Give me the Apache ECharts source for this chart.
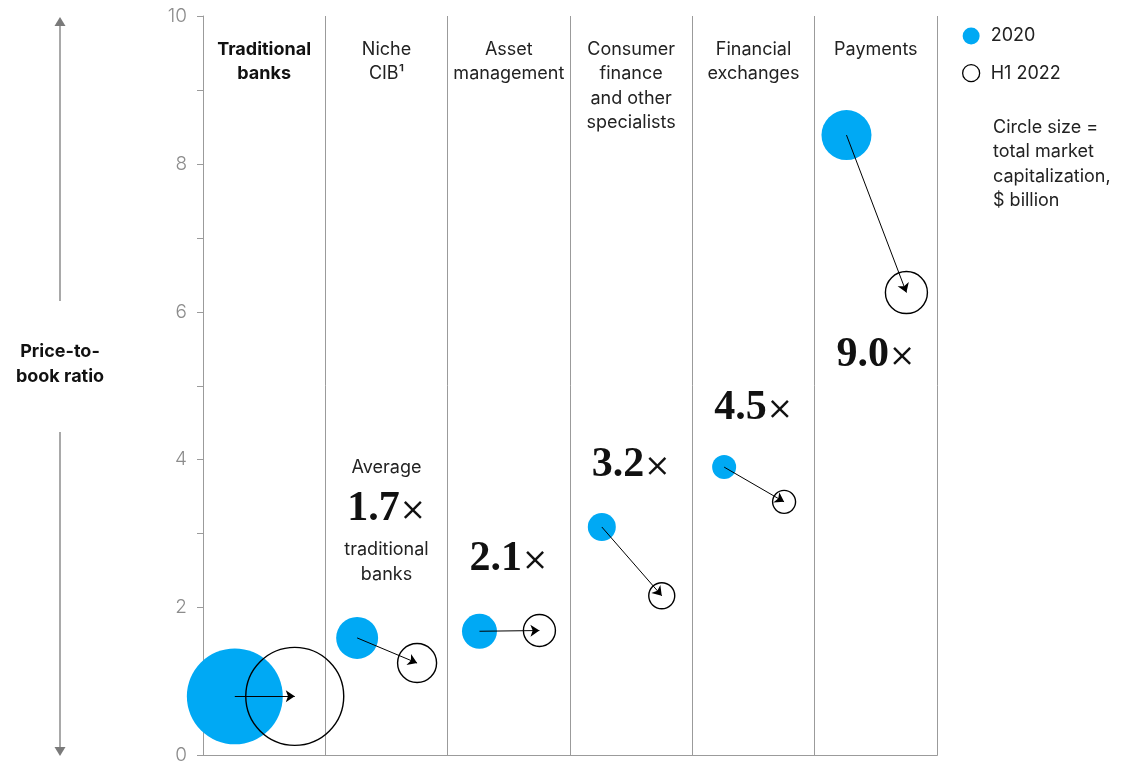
<!DOCTYPE html>
<html>
<head>
<meta charset="utf-8">
<script src="https://cdn.jsdelivr.net/npm/echarts@6/dist/echarts.min.js"></script>
<style>
html, body { margin: 0; padding: 0; background: #fff; }
#chart { width: 1129px; height: 765px; }
</style>
</head>
<body>
<div id="chart"></div>
<script>
// column headers
var categories = ['Traditional\nbanks', 'Niche\nCIB¹', 'Asset\nmanagement', 'Consumer\nfinance\nand other\nspecialists', 'Financial\nexchanges', 'Payments']
// price-to-book ratio
var pb2020 = [0.80, 1.59, 1.68, 3.09, 3.90, 8.39]
var pbH12022 = [0.80, 1.25, 1.69, 2.16, 3.43, 6.26]
// total market capitalization, $ billion (read from circle areas)
var cap2020 = [2300, 440, 306, 196, 144, 625]
var capH12022 = [2400, 380, 256, 169, 132, 441]
// average multiple of traditional banks
var multiples = [null, 1.7, 2.1, 3.2, 4.5, 9.0]
var yTicks = [0, 2, 4, 6, 8, 10]

// layout only
var labelY = [null, 3.17, 2.66, 3.93, 4.70, 5.42]
var off2020 = 0.26
var off2022 = 0.75

var blue = '#00a9f4'
var grey = '#9b9b9b'
var font = 'Inter, Roboto, "Liberation Sans", sans-serif'

var chart = echarts.init(document.getElementById('chart'))

function header (val, idx) {
  var tag = idx === 0 ? 'b' : 'n'
  return val.split('\n').map(function (s) { return '{' + tag + '|' + s + '}' }).join('\n')
}

function multipleLabel (p) {
  var m = '{m|' + p.value[2].toFixed(1) + '}{x|×}'
  if (p.value[3] === 1) {
    return '{s|Average}\n' + m + '\n{s|traditional}\n{s|banks}'
  }
  return m
}

var multData = []
multiples.forEach(function (m, i) {
  if (m !== null) multData.push([i + 0.5, labelY[i], m, i])
})

chart.setOption({
  animation: false,
  grid: { left: 203, right: 192, top: 16, bottom: 9 },
  legend: {
    data: [{ name: '2020' }, { name: 'H1 2022', itemStyle: { borderWidth: 1.3 } }],
    orient: 'vertical',
    left: 957,
    top: 22,
    itemWidth: 17,
    itemHeight: 17,
    itemGap: 19,
    icon: 'circle',
    textStyle: { fontFamily: font, fontSize: 18, color: '#222', padding: [0, 0, 0, 6] }
  },
  xAxis: [
    {
      type: 'category',
      data: categories,
      position: 'top',
      boundaryGap: true,
      axisLine: { show: true, lineStyle: { color: grey, width: 1 } },
      axisTick: { show: false },
      splitLine: { show: true, lineStyle: { color: grey, width: 1 } },
      axisLabel: {
        inside: true,
        interval: 0,
        margin: 21,
        verticalAlign: 'top',
        formatter: header,
        rich: {
          b: { fontFamily: font, fontSize: 18, fontWeight: 'bold', color: '#111', lineHeight: 24.5 },
          n: { fontFamily: font, fontSize: 18, color: '#222', lineHeight: 24.5 }
        }
      }
    },
    {
      type: 'value',
      min: 0,
      max: 6,
      position: 'bottom',
      axisLine: { show: true, lineStyle: { color: grey } },
      axisTick: { show: false },
      axisLabel: { show: false },
      splitLine: { show: false }
    }
  ],
  yAxis: {
    type: 'value',
    min: 0,
    max: 10,
    interval: 1,
    axisLine: { show: true, lineStyle: { color: grey } },
    axisTick: { show: true, length: 6, lineStyle: { color: grey } },
    splitLine: { show: false },
    axisLabel: {
      color: '#8c8c8c',
      fontSize: 19,
      fontFamily: font,
      fontWeight: 300,
      margin: 16,
      formatter: function (v) { return yTicks.indexOf(v) >= 0 ? String(v) : '' }
    }
  },
  series: [
    {
      name: '2020',
      type: 'scatter',
      xAxisIndex: 1,
      z: 2,
      data: pb2020.map(function (v, i) { return [i + off2020, v, cap2020[i]] }),
      symbolSize: function (d) { return 2 * Math.sqrt(d[2]) },
      itemStyle: { color: blue, opacity: 1 }
    },
    {
      name: 'H1 2022',
      type: 'scatter',
      xAxisIndex: 1,
      z: 3,
      data: pbH12022.map(function (v, i) { return [i + off2022, v, capH12022[i]] }),
      symbolSize: function (d) { return 2 * Math.sqrt(d[2]) },
      itemStyle: { color: 'rgba(0,0,0,0)', borderColor: '#000', borderWidth: 1.4, opacity: 1 }
    },
    {
      name: 'arrows',
      type: 'lines',
      coordinateSystem: 'cartesian2d',
      xAxisIndex: 1,
      z: 4,
      silent: true,
      symbol: ['none', 'arrow'],
      symbolSize: 9,
      lineStyle: { color: '#000', width: 1, opacity: 1 },
      data: pb2020.map(function (v, i) {
        return { coords: [[i + off2020, v], [i + off2022, pbH12022[i]]] }
      })
    },
    {
      name: 'multiples',
      type: 'scatter',
      xAxisIndex: 1,
      z: 5,
      silent: true,
      symbolSize: 0,
      itemStyle: { opacity: 1 },
      data: multData,
      label: {
        show: true,
        position: 'inside',
        color: '#111',
        opacity: 1,
        textBorderWidth: 0,
        textBorderColor: 'transparent',
        formatter: multipleLabel,
        rich: {
          m: { fontFamily: '"Liberation Serif", serif', fontWeight: 'bold', fontSize: 42, color: '#111', lineHeight: 58, textBorderWidth: 0 },
          x: { fontFamily: font, fontWeight: 300, fontSize: 40, color: '#111', lineHeight: 58, textBorderWidth: 0 },
          s: { fontFamily: font, fontSize: 18, color: '#222', lineHeight: 24.5, textBorderWidth: 0 }
        }
      }
    }
  ],
  graphic: [
    {
      type: 'text',
      left: 993,
      top: 115,
      style: { text: 'Circle size =\ntotal market\ncapitalization,\n$ billion', fontFamily: font, fontSize: 18, lineHeight: 24.5, fill: '#222' }
    },
    {
      type: 'text',
      x: 60,
      y: 339,
      style: { text: 'Price-to-\nbook ratio', fontFamily: font, fontSize: 18, fontWeight: 'bold', lineHeight: 25, fill: '#111', align: 'center' }
    },
    { type: 'line', shape: { x1: 60, y1: 25, x2: 60, y2: 301 }, style: { stroke: '#7a7a7a', lineWidth: 1.3 } },
    { type: 'polygon', shape: { points: [[60, 17], [54.5, 26], [65.5, 26]] }, style: { fill: '#7a7a7a' } },
    { type: 'line', shape: { x1: 60, y1: 432, x2: 60, y2: 748 }, style: { stroke: '#7a7a7a', lineWidth: 1.3 } },
    { type: 'polygon', shape: { points: [[54.5, 747], [65.5, 747], [60, 756]] }, style: { fill: '#7a7a7a' } }
  ]
})
</script>
</body>
</html>
